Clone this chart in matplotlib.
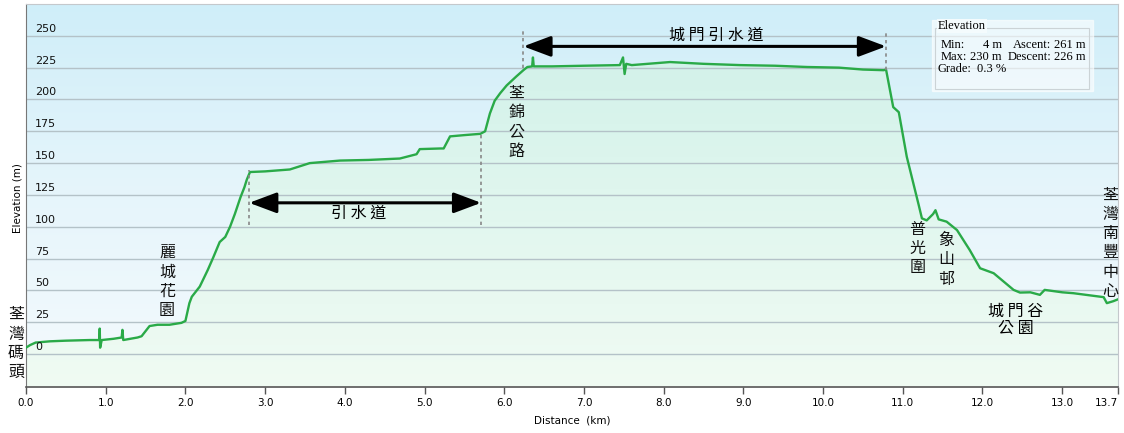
import numpy as np
import matplotlib
matplotlib.use("Agg")
import matplotlib.pyplot as plt
from matplotlib.patches import Polygon, Rectangle
from matplotlib.colors import LinearSegmentedColormap

plt.rcParams['font.family'] = ['DejaVu Sans', 'Noto Sans CJK TC']

# ---------------- data ----------------
distance_km = [0.00, 0.05, 0.12, 0.30, 0.50, 0.80, 0.92, 0.925, 0.93, 0.95, 1.10, 1.20,
               1.21, 1.22, 1.40, 1.45, 1.55, 1.65, 1.80, 1.95, 2.00, 2.05, 2.08, 2.18,
               2.28, 2.35, 2.43, 2.50, 2.56, 2.62, 2.69, 2.74, 2.77, 2.81, 3.00, 3.31,
               3.56, 3.94, 4.30, 4.69, 4.90, 4.94, 5.20, 5.24, 5.32, 5.50, 5.70, 5.76,
               5.82, 5.88, 5.95, 6.03, 6.15, 6.24, 6.29, 6.35, 6.36, 6.37, 6.60, 7.00,
               7.45, 7.49, 7.51, 7.53, 7.60, 8.08, 8.50, 8.96, 9.40, 9.80, 10.20, 10.50,
               10.76, 10.79, 10.88, 10.95, 11.05, 11.20, 11.24, 11.30, 11.38, 11.41,
               11.45, 11.55, 11.68, 11.84, 11.97, 12.14, 12.39, 12.47, 12.60, 12.72,
               12.78, 13.00, 13.14, 13.52, 13.56, 13.64, 13.70]
elevation_m = [5, 7, 9, 10, 10.5, 11, 11, 20, 5, 11, 12, 13,
               19, 11, 13, 14, 22, 23, 23, 24.5, 26, 40, 45, 53,
               66, 76, 88, 92, 100, 110, 123, 131, 137, 143, 143.5, 145,
               150, 152, 152.5, 153.6, 157, 161, 161.5, 161.5, 171, 172, 173, 175,
               189, 199, 205, 211, 218, 223, 225.5, 226, 233, 226, 226, 226.5,
               227, 233, 220, 228, 227, 229.4, 228, 227, 226.5, 225.5, 225, 223.5,
               223, 223.5, 194, 190, 155, 117, 106.6, 105, 110, 113,
               105.8, 104, 97.4, 81.7, 67.4, 63.5, 50.4, 48.3, 48.5, 46.5,
               50.4, 48.5, 47.8, 44.7, 40, 41.5, 43]

x_ticks = [0, 1, 2, 3, 4, 5, 6, 7, 8, 9, 10, 11, 12, 13, 13.7]
x_tick_labels = ["0.0", "1.0", "2.0", "3.0", "4.0", "5.0", "6.0", "7.0", "8.0",
                 "9.0", "10.0", "11.0", "12.0", "13.0", "13.7"]
y_ticks = [0, 25, 50, 75, 100, 125, 150, 175, 200, 225, 250]

stats_title = "Elevation"
stats_min, stats_max = "4 m", "230 m"
stats_ascent, stats_descent = "261 m", "226 m"
stats_grade = "0.3 %"

# ---------------- figure ----------------
W, H = 1124, 433
fig = plt.figure(figsize=(W / 100, H / 100), dpi=100)
ax = fig.add_axes([26 / W, 1 - 386.5 / H, (1118 - 26) / W, (386.5 - 4) / H])
XMIN, XMAX, YMIN, YMAX = 0, 13.7, -25.5, 275
ax.set_xlim(XMIN, XMAX)
ax.set_ylim(YMIN, YMAX)

# sky gradient
sky = LinearSegmentedColormap.from_list("sky", ["#f4fafd", "#e6f5fb", "#cfeef9"])
grad = np.linspace(0, 1, 256).reshape(-1, 1)
ax.imshow(grad, extent=[XMIN, XMAX, YMIN, YMAX], origin="lower", aspect="auto",
          cmap=sky, zorder=0, interpolation="bicubic")

# filled area with gradient
fillc = LinearSegmentedColormap.from_list("fill", ["#f0fbf3", "#e2f7ef", "#d3f2ea"])
im = ax.imshow(grad, extent=[XMIN, XMAX, YMIN, 232], origin="lower", aspect="auto",
               cmap=fillc, zorder=1, interpolation="bicubic")
d = np.asarray(distance_km)
e = np.asarray(elevation_m)
verts = np.column_stack([np.r_[d, d[::-1]], np.r_[e, np.full(len(d), YMIN)]])
poly = Polygon(verts, closed=True, facecolor="none", edgecolor="none",
               transform=ax.transData)
ax.add_patch(poly)
im.set_clip_path(poly)

# grid lines
for v in y_ticks:
    ax.axhline(v, color="#b4c2c8", lw=1.0, zorder=2)
    ax.text(0.115, v + 1.6, str(v), fontsize=8, ha="left", va="bottom",
            color="#111111", zorder=4)

# profile line
ax.plot(d, e, color="#2aaa48", lw=1.7, zorder=3, solid_joinstyle="round")

# axes styling
ax.set_yticks([])
ax.set_xticks(x_ticks)
ax.set_xticklabels(x_tick_labels, fontsize=7.5)
ax.get_xticklabels()[-1].set_horizontalalignment("right")
ax.tick_params(axis="x", direction="out", length=5, width=1, pad=3, color="#555555")
for s in ["top", "right"]:
    ax.spines[s].set_color("#c4c8cc")
ax.spines["left"].set_color("#777777")
ax.spines["bottom"].set_color("#555555")
ax.spines["bottom"].set_linewidth(1.2)
ax.set_xlabel("Distance  (km)", fontsize=7.5, labelpad=6)
fig.text(17 / W, 1 - 198 / H, "Elevation (m)", rotation=90, fontsize=7.5,
         ha="center", va="center")

# annotations
cjk = ['Noto Sans CJK TC', 'DejaVu Sans']

def vtext(x, y, s, **kw):
    ax.text(x, y, "\n".join(s), family=cjk, fontsize=11.5, ha="center", va="center",
            linespacing=1.18, color="#111111", zorder=5, clip_on=False, **kw)

vtext(-0.125, 8, "荃灣碼頭")
vtext(1.77, 57, "麗城花園")
vtext(6.15, 182, "荃錦公路")
vtext(11.18, 83, "普光圍")
vtext(11.54, 74, "象山邨")
vtext(13.60, 87, "荃灣南豐中心")
ax.text(12.42, 27, "城 門 谷\n公 園", family=cjk, fontsize=11.5, ha="center",
        va="center", linespacing=1.0, zorder=5)
ax.text(4.17, 111, "引 水 道", family=cjk, fontsize=11.5, ha="center", va="center",
        zorder=5)
ax.text(8.66, 250.5, "城 門 引 水 道", family=cjk, fontsize=11.5, ha="center",
        va="center", zorder=5)

# arrows and dotted guides
for (x0, x1, ya) in [(2.80, 5.71, 118.8), (6.24, 10.79, 241.7)]:
    ax.annotate("", xy=(x1, ya), xytext=(x0, ya),
                arrowprops=dict(arrowstyle="<|-|>,head_length=1.2,head_width=0.45",
                                color="black", lw=2.2, shrinkA=0, shrinkB=0,
                                mutation_scale=14), zorder=6)
for (xg, y0, y1) in [(2.80, 101, 144.5), (5.71, 101, 172.5),
                     (6.24, 224.5, 256), (10.79, 223, 252)]:
    ax.plot([xg, xg], [y0, y1], color="#888888", lw=1.2, ls=(0, (2, 2)), zorder=5)

# stats box
def fx(px):
    return px / W

def fy(py):
    return 1 - py / H

fig.add_artist(Rectangle((fx(931.5), fy(91)), (1093 - 931.5) / W, (91 - 20) / H,
                         transform=fig.transFigure, facecolor="white", alpha=0.6,
                         edgecolor="#ffffff", lw=1))
fig.add_artist(Rectangle((fx(935), fy(89)), (1089 - 935) / W, (89 - 28) / H,
                         transform=fig.transFigure, facecolor="none",
                         edgecolor="#cbd3d6", lw=0.8))
serif = ['Liberation Serif']
fs = 9
fig.text(fx(938), fy(26), stats_title, family=serif, fontsize=fs, va="center",
         ha="left", bbox=dict(facecolor="#f4fbfd", edgecolor="none", pad=0.5))
fig.text(fx(941), fy(44.5), "Min:", family=serif, fontsize=fs, va="center")
fig.text(fx(1002), fy(44.5), stats_min, family=serif, fontsize=fs, va="center",
         ha="right")
fig.text(fx(1051), fy(44.5), "Ascent:", family=serif, fontsize=fs, va="center",
         ha="right")
fig.text(fx(1054), fy(44.5), stats_ascent, family=serif, fontsize=fs, va="center",
         ha="left")
fig.text(fx(941), fy(57), "Max:", family=serif, fontsize=fs, va="center")
fig.text(fx(1002), fy(57), stats_max, family=serif, fontsize=fs, va="center",
         ha="right")
fig.text(fx(1051), fy(57), "Descent:", family=serif, fontsize=fs, va="center",
         ha="right")
fig.text(fx(1054), fy(57), stats_descent, family=serif, fontsize=fs, va="center",
         ha="left")
fig.text(fx(938), fy(69.5), "Grade:", family=serif, fontsize=fs, va="center")
fig.text(fx(977), fy(69.5), stats_grade, family=serif, fontsize=fs, va="center")

fig.savefig("out.png", dpi=100)
